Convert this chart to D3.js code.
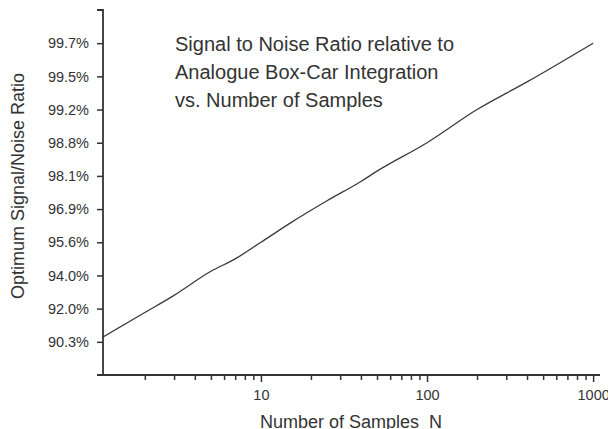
<!DOCTYPE html>
<html>
<head>
<meta charset="utf-8">
<script src="https://cdn.jsdelivr.net/npm/d3@7"></script>
<style>
  html, body { margin: 0; padding: 0; background: #fff; }
  svg { display: block; font-family: "Liberation Sans", Arial, Helvetica, sans-serif; }
</style>
</head>
<body>
<svg id="chart" width="608" height="429"></svg>
<script>
// Number of samples N and the optimum signal/noise ratio (% of analogue box-car integration)
const samples = [1, 2, 3, 5, 7, 10, 15, 25, 40, 50, 100, 200, 400, 1000];
const snrPercent = [90.3, 91.8, 92.8, 94.2, 94.8, 95.6, 96.35, 97.2, 97.9, 98.2, 98.8, 99.2, 99.45, 99.7];

// Y-axis tick labels (evenly spaced levels)
const yTicks = [90.3, 92.0, 94.0, 95.6, 96.9, 98.1, 98.8, 99.2, 99.5, 99.7];
// X-axis decades and limits
const xMajorTicks = [10, 100, 1000];
const xDomain = [1.12, 1100];
const titleLines = [
  "Signal to Noise Ratio relative to",
  "Analogue Box-Car Integration",
  "vs. Number of Samples"
];

const svg = d3.select("#chart");
const plot = { left: 103, right: 600, top: 10, bottom: 375 };
const ink = "#333";

// Log scale for N
const x = d3.scaleLog().domain(xDomain).range([plot.left, plot.right]);

// Evenly spaced levels: one step below the lowest label, one above the highest
const step = (plot.bottom - plot.top) / (yTicks.length + 1);
const y = d3.scaleLinear()
  .domain(yTicks)
  .range(yTicks.map((d, i) => plot.bottom - (i + 1) * step));

// Minor ticks 2..9 in each decade within the range
const xMinorTicks = [];
[1, 10, 100].forEach(dec => {
  for (let k = 2; k <= 9; k++) {
    const v = dec * k;
    if (v >= xDomain[0] && v <= xDomain[1]) xMinorTicks.push(v);
  }
});

// Clip region for the curve
svg.append("defs").append("clipPath").attr("id", "plotClip")
  .append("rect")
  .attr("x", plot.left).attr("y", plot.top)
  .attr("width", plot.right - plot.left).attr("height", plot.bottom - plot.top);

// Curve
const data = samples.map((n, i) => ({ n, v: snrPercent[i] }));
svg.append("path")
  .datum(data)
  .attr("clip-path", "url(#plotClip)")
  .attr("fill", "none")
  .attr("stroke", "#3a3a3a")
  .attr("stroke-width", 1.3)
  .attr("d", d3.line().x(d => x(d.n)).y(d => y(d.v)).curve(d3.curveMonotoneX));

// X axis: minor ticks
const gxMinor = svg.append("g")
  .attr("transform", `translate(0,${plot.bottom})`)
  .call(d3.axisBottom(x).tickValues(xMinorTicks).tickSize(5).tickSizeOuter(0).tickFormat(""));
gxMinor.select(".domain").remove();

// X axis: decades with labels
const gx = svg.append("g")
  .attr("transform", `translate(0,${plot.bottom})`)
  .call(d3.axisBottom(x).tickValues(xMajorTicks).tickSize(7).tickSizeOuter(0)
    .tickPadding(8).tickFormat(d3.format("d")));
gx.select(".domain").remove();

svg.selectAll("g .tick line").attr("stroke", ink).attr("stroke-width", 1.5);

// Y axis
const gy = svg.append("g")
  .attr("transform", `translate(${plot.left},0)`)
  .call(d3.axisLeft(y).tickValues(yTicks).tickSize(6).tickSizeOuter(0).tickPadding(8)
    .tickFormat(d => d.toFixed(1) + "%"));
gy.select(".domain").remove();
gy.selectAll(".tick line").attr("stroke", ink).attr("stroke-width", 1.5);

// Axis frame lines
svg.append("path")
  .attr("fill", "none")
  .attr("stroke", ink)
  .attr("stroke-width", 1.8)
  .attr("d", `M${plot.left - 6},${plot.top}H${plot.left}V${plot.bottom}H${plot.left - 6}M${plot.left},${plot.bottom}H${plot.right}`);

svg.selectAll(".tick text")
  .attr("fill", ink)
  .style("font-size", "14.5px");

// Axis titles
svg.append("text")
  .attr("transform", `translate(23.5,186) rotate(-90)`)
  .attr("text-anchor", "middle")
  .attr("fill", ink)
  .style("font-size", "18px")
  .text("Optimum Signal/Noise Ratio");

svg.append("text")
  .attr("x", 351).attr("y", 428)
  .attr("text-anchor", "middle")
  .attr("fill", ink)
  .style("font-size", "18px")
  .style("white-space", "pre")
  .attr("xml:space", "preserve")
  .text("Number of Samples  N");

// Chart title
const title = svg.append("text")
  .attr("fill", ink)
  .style("font-size", "20px");
titleLines.forEach((t, i) => {
  title.append("tspan").attr("x", 175).attr("y", 51 + i * 28).text(t);
});
</script>
</body>
</html>
